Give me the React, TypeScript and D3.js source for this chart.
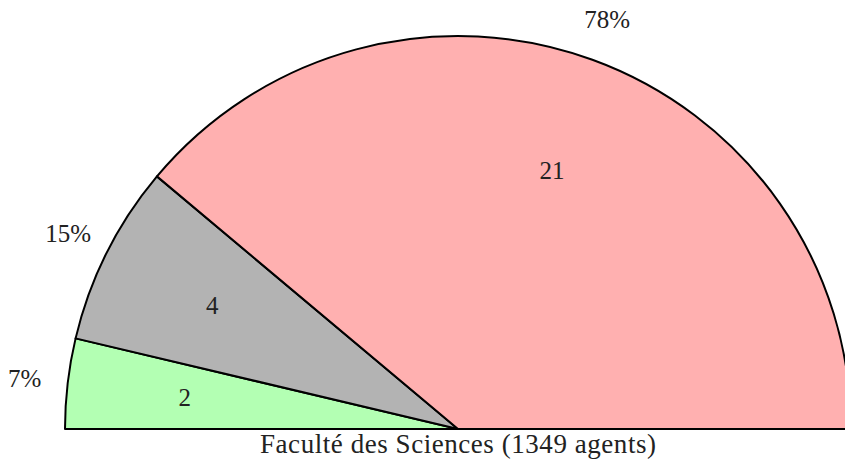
import React from "react";
import * as d3 from "d3";

const categories = ["A", "B", "C"];
const values = [2, 4, 21];
const percents = ["7%", "15%", "78%"];
const colors = ["#B3FFB3", "#B3B3B3", "#FFB0B0"];
const title = "Faculté des Sciences (1349 agents)";

export default function App() {
  const W = 845, H = 466;
  const cx = 458, cy = 429, r = 393;
  const pie = d3.pie<number>().sort(null).startAngle(-Math.PI / 2).endAngle(Math.PI / 2);
  const arcs = pie(values);
  const arc = d3.arc<d3.PieArcDatum<number>>().innerRadius(0).outerRadius(r);
  const inner = d3.arc<d3.PieArcDatum<number>>().innerRadius(r * 0.7).outerRadius(r * 0.7);
  const outer = d3.arc<d3.PieArcDatum<number>>().innerRadius(r * 1.11).outerRadius(r * 1.11);
  const font = "'Liberation Serif', serif";
  return (
    <svg width={W} height={H} style={{ position: "absolute", left: 0, top: 0, background: "#fff" }}>
      <g transform={`translate(${cx},${cy})`}>
        {arcs.map((a, i) => (
          <path key={categories[i]} d={arc(a) || ""} fill={colors[i]} stroke="#000" strokeWidth={2} strokeLinejoin="round" />
        ))}
        {arcs.map((a, i) => {
          const [x, y] = inner.centroid(a);
          return (
            <text key={"v" + i} x={x} y={y} textAnchor="middle" dominantBaseline="central" fontFamily={font} fontSize={25} fill="#222">
              {values[i]}
            </text>
          );
        })}
        {arcs.map((a, i) => {
          const [x, y] = outer.centroid(a);
          return (
            <text key={"p" + i} x={x} y={y} textAnchor="middle" dominantBaseline="central" fontFamily={font} fontSize={25} fill="#222">
              {percents[i]}
            </text>
          );
        })}
      </g>
      <text x={cx} y={453} textAnchor="middle" fontFamily={font} fontSize={27} fill="#222" textLength={396} lengthAdjust="spacing">{title}</text>
    </svg>
  );
}
